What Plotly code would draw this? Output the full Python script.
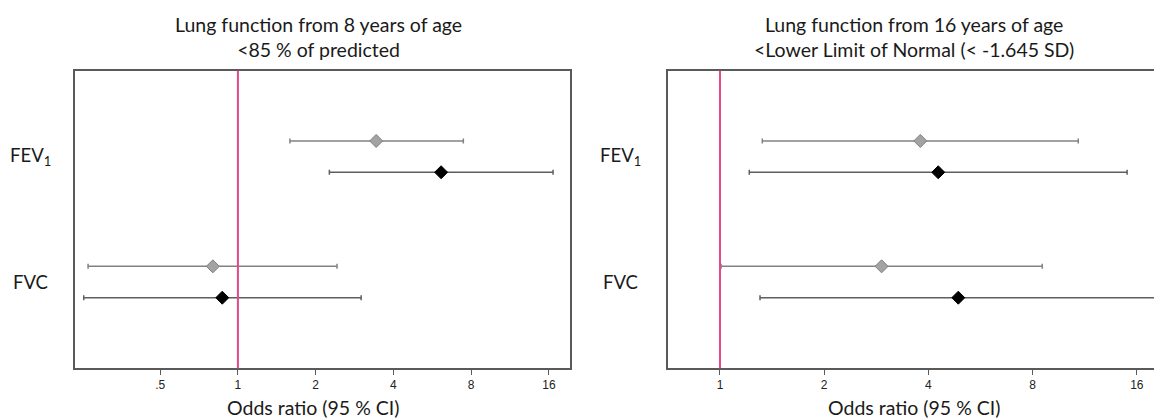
import plotly.graph_objects as go

# Outcome measures (rows) and axis tick labels
measures = ["FEV<sub>1</sub>", "FVC"]
ticks_left = [0.5, 1, 2, 4, 8, 16]
ticklabels_left = [".5", "1", "2", "4", "8", "16"]
ticks_right = [1, 2, 4, 8, 16]
ticklabels_right = ["1", "2", "4", "8", "16"]

# Panel 1: lung function from 8 years of age, <85 % of predicted
p1_grey_or = [3.43, 0.80]
p1_grey_lo = [1.59, 0.263]
p1_grey_hi = [7.46, 2.42]
p1_black_or = [6.12, 0.87]
p1_black_lo = [2.26, 0.253]
p1_black_hi = [16.6, 3.0]

# Panel 2: lung function from 16 years of age, <LLN
p2_grey_or = [3.79, 2.93]
p2_grey_lo = [1.325, 1.007]
p2_grey_hi = [10.84, 8.53]
p2_black_or = [4.27, 4.88]
p2_black_lo = [1.215, 1.305]
p2_black_hi = [15.0, 19.0]

W, H = 1154, 419
ROW_Y = {"FEV<sub>1</sub>": 1.0, "FVC": 0.0}
OFFSET = 0.125
AXIS_COLOR = "#5a5a5a"
REF_COLOR = "#e4478a"
FONT = "Lato"


def px_x(p):
    return p / W


def px_y(p):
    return (H - p) / H


def series(or_, lo, hi, shift, fill, edge, bar_color, xa, ya):
    ys = [ROW_Y[m] + shift for m in measures]
    return go.Scatter(
        x=or_, y=ys, xaxis=xa, yaxis=ya, mode="markers",
        marker=dict(symbol="diamond", size=10, color=fill,
                    line=dict(color=edge, width=1)),
        error_x=dict(type="data", symmetric=False,
                     array=[h - o for h, o in zip(hi, or_)],
                     arrayminus=[o - l for o, l in zip(or_, lo)],
                     color=bar_color, thickness=1.5, width=2.5),
        showlegend=False, hoverinfo="x+y",
    )


fig = go.Figure()
fig.add_trace(series(p1_grey_or, p1_grey_lo, p1_grey_hi, OFFSET,
                     "#a3a3a3", "#7f7f7f", "#828282", "x", "y"))
fig.add_trace(series(p1_black_or, p1_black_lo, p1_black_hi, -OFFSET,
                     "#000000", "#000000", "#5e5e5e", "x", "y"))
fig.add_trace(series(p2_grey_or, p2_grey_lo, p2_grey_hi, OFFSET,
                     "#a3a3a3", "#7f7f7f", "#828282", "x2", "y2"))
fig.add_trace(series(p2_black_or, p2_black_lo, p2_black_hi, -OFFSET,
                     "#000000", "#000000", "#5e5e5e", "x2", "y2"))

y_range = [-0.688, 1.685]
y_dom = [px_y(368.3), px_y(70.7)]

xaxis_common = dict(
    type="log", showgrid=False, zeroline=False, showline=True,
    linecolor=AXIS_COLOR, linewidth=1.5, ticks="outside", ticklen=5,
    tickcolor=AXIS_COLOR, tickwidth=1, automargin=False,
    tickfont=dict(family="Liberation Sans", size=12, color="#222222"),
)
yaxis_common = dict(
    range=y_range, domain=y_dom, showgrid=False, zeroline=False,
    showline=True, linecolor=AXIS_COLOR, linewidth=1.5,
    showticklabels=False, ticks="", automargin=False,
)

fig.update_layout(
    width=W, height=H,
    margin=dict(l=0, r=0, t=0, b=0, pad=0),
    paper_bgcolor="white", plot_bgcolor="white",
    showlegend=False,
    xaxis=dict(**xaxis_common, domain=[px_x(75.3), px_x(570)],
               range=[-0.6295, 1.2857], mirror=True,
               tickvals=ticks_left, ticktext=ticklabels_left, anchor="y"),
    yaxis=dict(**yaxis_common, mirror=True, anchor="x"),
    xaxis2=dict(**xaxis_common, domain=[px_x(668), 1.0],
                range=[-0.1502, 1.2538], mirror=True,
                tickvals=ticks_right, ticktext=ticklabels_right, anchor="y2"),
    yaxis2=dict(**yaxis_common, mirror=False, anchor="x2"),
)

# Reference line at odds ratio = 1 in each panel
for xa, ya in (("x", "y"), ("x2", "y2")):
    fig.add_shape(type="line", xref=xa, yref=f"{ya} domain",
                  x0=1, x1=1, y0=0, y1=1, layer="above",
                  line=dict(color=REF_COLOR, width=2))

annotations = []
# Panel titles
titles = [
    ("Lung function from 8 years of age<br>&lt;85 % of predicted", 318),
    ("Lung function from 16 years of age<br>&lt;Lower Limit of Normal (&lt; -1.645 SD)", 914),
]
for text, cx in titles:
    annotations.append(dict(text=text, xref="paper", yref="paper",
                            x=px_x(cx), y=px_y(37), xanchor="center",
                            yanchor="middle", showarrow=False,
                            font=dict(family=FONT, size=19.5, color="#1a1a1a")))
# Axis titles
for cx in (313, 914):
    annotations.append(dict(text="Odds ratio (95 % CI)", xref="paper",
                            yref="paper", x=px_x(cx), y=px_y(407),
                            xanchor="center", yanchor="middle",
                            showarrow=False,
                            font=dict(family=FONT, size=19.5, color="#1a1a1a")))
# Row labels
for ya, cx in (("y", 30), ("y2", 620)):
    for m in measures:
        annotations.append(dict(text=m, xref="paper", yref=ya,
                                x=px_x(cx), y=ROW_Y[m], xanchor="center",
                                yanchor="middle", showarrow=False,
                                font=dict(family=FONT, size=18.5,
                                          color="#1a1a1a")))
fig.update_layout(annotations=annotations)

fig.write_html("out.html")
